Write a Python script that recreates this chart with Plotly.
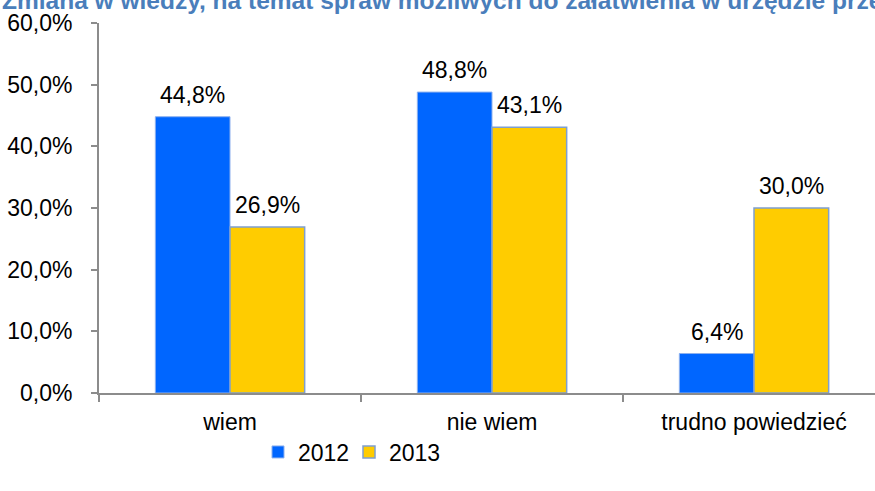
import plotly.graph_objects as go

categories = ["wiem", "nie wiem", "trudno powiedzieć"]
series_names = ["2012", "2013"]
values_2012 = [44.8, 48.8, 6.4]
values_2013 = [26.9, 43.1, 30.0]
y_ticks = [0, 10, 20, 30, 40, 50, 60]
title_text = "Zmiana w wiedzy, na temat spraw możliwych do załatwienia w urzędzie przez Internet"


def pl(v):
    return f"{v:.1f}%".replace(".", ",")


W, H = 875, 491
L, T, B = 99, 23, 98
plot_w = W - L
plot_h = H - T - B

FONT = "Liberation Sans, Arial, sans-serif"
FS = 23

unit = 262.0
x_hi = -0.5 + plot_w / unit
bar_w = 74.5

fig = go.Figure()
fig.add_trace(go.Bar(
    name=series_names[0], x=categories, y=values_2012,
    marker=dict(color="#0066FF", line=dict(color="#8DB0EE", width=1)),
))
fig.add_trace(go.Bar(
    name=series_names[1], x=categories, y=values_2013,
    marker=dict(color="#FFCC00", line=dict(color="#7F9FCF", width=1.5)),
))

annotations = []
for vals, shift in ((values_2012, -bar_w / 2), (values_2013, bar_w / 2)):
    for c, v in zip(categories, vals):
        annotations.append(dict(
            x=c, y=v, xref="x", yref="y", text=pl(v), showarrow=False,
            xanchor="center", yanchor="bottom", xshift=shift, yshift=7,
            font=dict(family=FONT, size=FS, color="black"),
        ))

annotations.append(dict(
    text="<b>" + title_text + "</b>", xref="paper", yref="paper",
    x=(0 - L) / plot_w, y=(plot_h + T - 0.5) / plot_h, xanchor="left", yanchor="middle",
    showarrow=False, font=dict(family=FONT, size=24.5, color="#4A7EBB"),
))

fig.update_layout(
    width=W, height=H,
    margin=dict(l=L, r=0, t=T, b=B, pad=0),
    paper_bgcolor="white", plot_bgcolor="white",
    barmode="group", bargap=0.43, bargroupgap=0,
    font=dict(family=FONT, size=FS, color="black"),
    showlegend=True,
    legend=dict(
        orientation="h", x=(258 - L) / plot_w, xanchor="left",
        y=(T + plot_h - 452) / plot_h, yanchor="middle",
        font=dict(family=FONT, size=FS, color="black"),
        entrywidth=46, entrywidthmode="pixels",
        bgcolor="rgba(0,0,0,0)",
    ),
    xaxis=dict(
        range=[-0.5, x_hi], type="category",
        showline=True, linecolor="#8C8C8C", linewidth=2,
        ticks="outside", ticklen=7, tickcolor="#8C8C8C", tickwidth=2,
        tickson="boundaries", showgrid=False,
        ticklabelstandoff=7,
        tickfont=dict(family=FONT, size=FS, color="black"),
    ),
    yaxis=dict(
        range=[0, 60], tickmode="array", tickvals=y_ticks,
        ticktext=[pl(v) for v in y_ticks],
        showline=True, linecolor="#8C8C8C", linewidth=2,
        ticks="outside", ticklen=6, tickcolor="#8C8C8C", tickwidth=2,
        showgrid=False, zeroline=False,
        ticklabelstandoff=14,
        tickfont=dict(family=FONT, size=FS, color="black"),
    ),
    annotations=annotations,
)

fig.write_html("out.html")
